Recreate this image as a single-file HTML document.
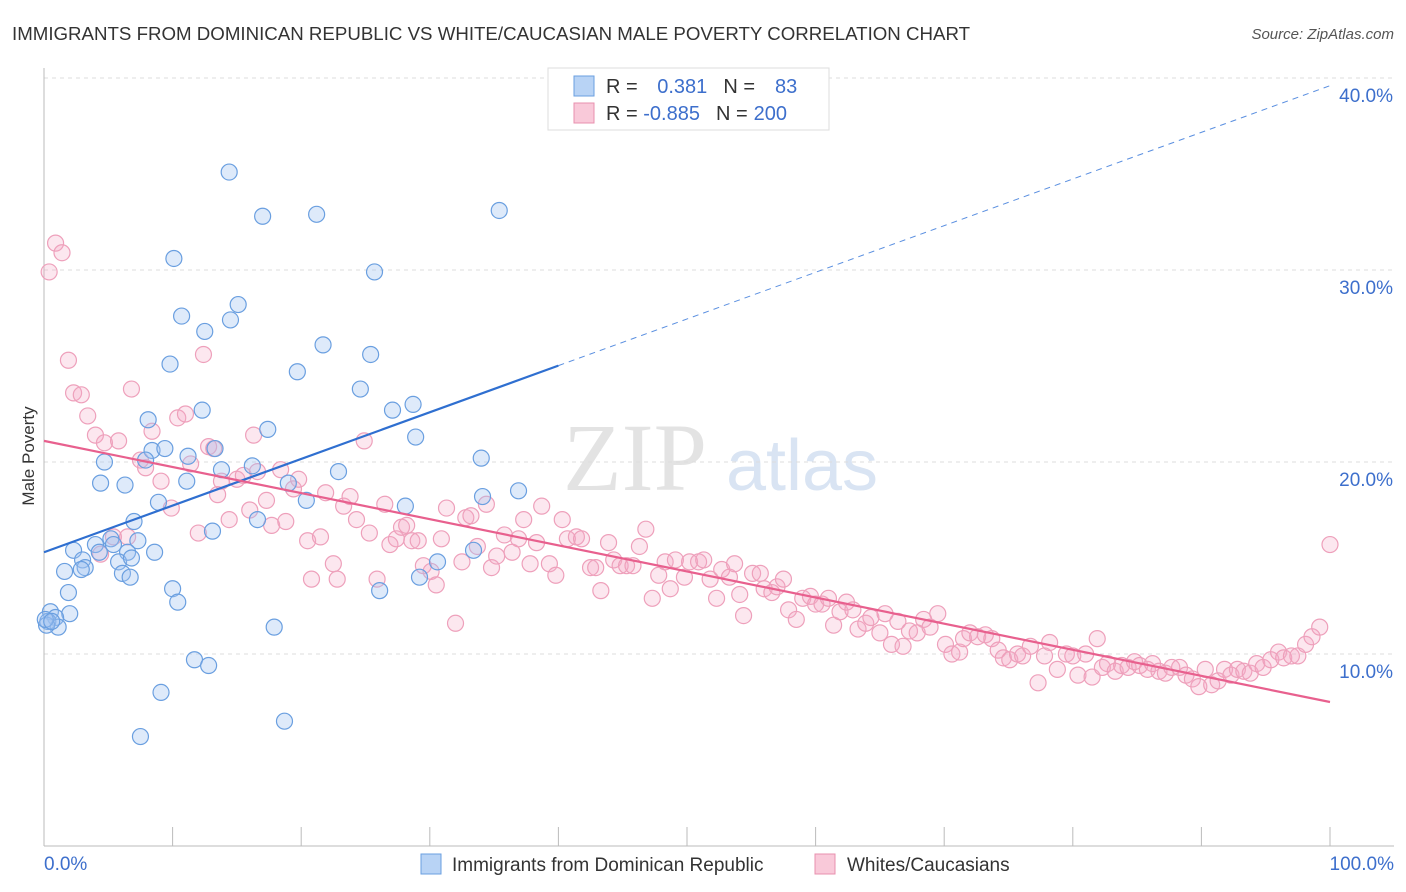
<!DOCTYPE html>
<html><head><meta charset="utf-8"><style>
body{margin:0;background:#fff;font-family:"Liberation Sans",sans-serif;}
#wrap{position:relative;width:1406px;height:892px;overflow:hidden;}
</style></head><body>
<div id="wrap">
<svg id="svg" width="1406" height="892" xmlns="http://www.w3.org/2000/svg">
<text x="12" y="40" font-size="18.7" fill="#333">IMMIGRANTS FROM DOMINICAN REPUBLIC VS WHITE/CAUCASIAN MALE POVERTY CORRELATION CHART</text>
<text x="1394" y="39" font-size="15" fill="#555" font-style="italic" text-anchor="end">Source: ZipAtlas.com</text>
<text x="0" y="0" transform="translate(34,456) rotate(-90)" font-size="17" fill="#333" text-anchor="middle">Male Poverty</text>
<g><text x="635" y="490" font-size="96" fill="#d8d8d8" font-family="Liberation Serif,serif" text-anchor="middle" opacity="0.7">ZIP</text><text x="802" y="490" font-size="72" fill="#c9d9ee" text-anchor="middle" opacity="0.7">atlas</text></g>
<g id="grid"></g><g id="axes"></g><g id="marks"></g><g id="lines"></g>
<g>
<rect x="548" y="68" width="281" height="62" fill="#fff" stroke="#ddd"/>
<rect x="574" y="76" width="20" height="20" fill="#b8d3f5" stroke="#6a9fe0"/>
<text x="606" y="93" font-size="20" fill="#333">R = <tspan fill="#3d6fcc" dx="14">0.381</tspan><tspan dx="16" fill="#333">N =</tspan><tspan dx="20" fill="#3d6fcc">83</tspan></text>
<rect x="574" y="103" width="20" height="20" fill="#f9c9d9" stroke="#e890ae"/>
<text x="606" y="120" font-size="20" fill="#333">R = <tspan fill="#3d6fcc">-0.885</tspan><tspan dx="16" fill="#333">N =</tspan><tspan dx="6" fill="#3d6fcc">200</tspan></text>
</g>
<g>
<rect x="421" y="854" width="20" height="20" fill="#b8d3f5" stroke="#6a9fe0"/>
<text x="452" y="871" font-size="19" fill="#333">Immigrants from Dominican Republic</text>
<rect x="815" y="854" width="20" height="20" fill="#f9c9d9" stroke="#e890ae"/>
<text x="847" y="871" font-size="19" fill="#333">Whites/Caucasians</text>
</g>
</svg>
</div>
<script>
const yTicks=[10,20,30,40];
const yTickLabels=["10.0%","20.0%","30.0%","40.0%"];
const xTicks=[10,20,30,40,50,60,70,80,90,100];
const blueX=[14.4,17.0,21.2,35.4,10.1,25.7,15.1,10.7,14.5,12.5,21.7,25.4,9.8,19.7,24.6,12.3,27.1,28.7,8.1,17.4,28.9,8.4,9.4,13.3,7.9,4.7,11.2,16.2,13.8,22.9,34.0,4.4,6.3,11.1,19.0,20.4,36.9,34.1,8.9,28.1,16.6,7.0,13.1,5.2,7.3,4.0,5.4,2.3,4.3,6.5,8.6,33.4,3.0,5.8,6.8,3.2,1.6,2.9,6.1,6.7,30.6,29.2,10.0,26.1,1.9,10.4,2.0,0.5,0.9,0.3,1.1,0.2,17.9,11.7,12.8,9.1,18.7,7.5,0.1,0.6];
const blueY=[35.1,32.8,32.9,33.1,30.6,29.9,28.2,27.6,27.4,26.8,26.1,25.6,25.1,24.7,23.8,22.7,22.7,23.0,22.2,21.7,21.3,20.6,20.7,20.7,20.1,20.0,20.3,19.8,19.6,19.5,20.2,18.9,18.8,19.0,18.9,18.0,18.5,18.2,17.9,17.7,17.0,16.9,16.4,16.0,15.9,15.7,15.7,15.4,15.3,15.3,15.3,15.4,14.9,14.8,15.0,14.5,14.3,14.4,14.2,14.0,14.8,14.0,13.4,13.3,13.2,12.7,12.1,12.2,11.9,11.7,11.4,11.5,11.4,9.7,9.4,8.0,6.5,5.7,11.8,11.7];
const pinkX=[0.4,0.9,1.4,1.9,2.3,2.9,3.4,4.0,4.7,5.8,6.8,4.4,5.4,6.5,7.5,7.9,8.4,9.1,9.9,10.4,11.0,11.4,12.0,12.4,12.8,13.2,13.5,13.8,14.4,15.0,15.5,16.3,16.0,16.6,17.3,17.7,18.4,18.8,19.4,19.8,20.5,20.8,21.5,21.9,22.5,22.8,23.3,23.8,24.3,24.9,25.3,25.9,26.5,26.9,27.4,27.8,28.2,28.6,29.1,29.5,30.1,30.5,30.9,31.3,32.0,32.5,32.8,33.2,33.7,34.4,34.8,35.2,35.8,36.4,36.9,37.3,37.8,38.3,38.7,39.3,39.8,40.3,40.7,41.4,41.8,42.5,42.9,43.3,43.9,44.3,44.8,45.3,45.8,46.3,46.8,47.3,47.8,48.3,48.7,49.1,49.8,50.2,50.9,51.3,51.8,52.3,52.7,53.3,53.7,54.1,54.4,55.1,55.7,56.0,56.6,57.0,57.5,57.9,58.5,59.0,59.6,60.0,60.5,61.0,61.4,61.9,62.4,62.9,63.3,63.9,64.3,65.0,65.4,65.9,66.4,66.8,67.3,67.9,68.4,68.9,69.5,70.1,70.6,71.2,71.5,72.0,72.6,73.2,73.7,74.2,74.6,75.1,75.7,76.1,76.7,77.3,77.8,78.2,78.8,79.5,80.0,80.4,81.0,81.5,81.9,82.3,82.7,83.3,83.8,84.3,84.8,85.2,85.8,86.2,86.7,87.2,87.7,88.3,88.8,89.3,89.8,90.3,90.8,91.3,91.8,92.3,92.8,93.3,93.8,94.3,94.8,95.4,96.0,96.4,97.0,97.5,98.1,98.6,99.2,100.0];
const pinkY=[29.9,31.4,30.9,25.3,23.6,23.5,22.4,21.4,21.0,21.1,23.8,15.2,16.1,16.1,20.1,19.7,21.6,19.0,17.6,22.3,22.5,19.9,16.3,25.6,20.8,20.7,18.3,19.0,17.0,19.1,19.3,21.4,17.5,19.5,18.0,16.7,19.6,16.9,18.6,19.1,15.9,13.9,16.1,18.4,14.7,13.9,17.7,18.2,17.0,21.1,16.3,13.9,17.8,15.7,16.0,16.6,16.7,15.9,15.9,14.6,14.3,13.6,16.0,17.6,11.6,14.8,17.1,17.2,15.6,17.8,14.5,15.1,16.2,15.3,16.0,17.0,14.7,15.8,17.7,14.7,14.1,17.0,16.0,16.1,16.0,14.5,14.5,13.3,15.8,14.9,14.6,14.6,14.6,15.6,16.5,12.9,14.1,14.8,13.4,14.9,14.0,14.8,14.8,14.9,13.9,12.9,14.4,14.0,14.7,13.1,12.0,14.2,14.2,13.4,13.2,13.5,13.9,12.3,11.8,12.9,13.0,12.6,12.6,12.9,11.5,12.2,12.7,12.3,11.3,11.6,11.9,11.1,12.1,10.5,11.7,10.4,11.2,11.1,11.8,11.4,12.1,10.5,10.0,10.1,10.8,11.1,10.9,11.0,10.8,10.2,9.8,9.7,10.0,9.9,10.4,8.5,9.9,10.6,9.2,10.0,9.9,8.9,10.0,8.8,10.8,9.3,9.5,9.1,9.4,9.3,9.6,9.4,9.2,9.5,9.1,9.0,9.3,9.3,8.9,8.7,8.3,9.2,8.4,8.6,9.2,8.9,9.2,9.1,9.0,9.5,9.3,9.7,10.1,9.8,9.9,9.9,10.5,10.9,11.4,15.7];
const blueTrend=[15.3,0.243];   // intercept, slope
const blueSolidEnd=40;
const pinkTrend=[21.1,-0.136];

const NS="http://www.w3.org/2000/svg";
const X0=44,X1=1330,Y0=846,PX=19.2;
function sx(v){return X0+(X1-X0)*v/100;}
function sy(v){return Y0-v*PX;}
function mk(tag,attrs,parent){const e=document.createElementNS(NS,tag);for(const k in attrs)e.setAttribute(k,attrs[k]);document.getElementById(parent).appendChild(e);return e;}

yTicks.forEach((t,i)=>{
  const g=mk('line',{x1:X0,x2:1394,y1:sy(t),y2:sy(t),stroke:'#ddd','stroke-dasharray':'4,4'},'grid');
  
  
  const l=mk('text',{x:1393,y:sy(t)+24,'font-size':19,fill:'#3d6fcc','text-anchor':'end'},'grid');
  l.textContent=yTickLabels[i];
  
  
});
const ax=mk('line',{x1:X0,x2:1394,y1:Y0,y2:Y0,stroke:'#bbb'},'axes');


const ay=mk('line',{x1:X0,x2:X0,y1:68,y2:Y0,stroke:'#bbb'},'axes');


xTicks.forEach(t=>{
  const k=mk('line',{x1:sx(t),x2:sx(t),y1:Y0,y2:Y0-19,stroke:'#bbb'},'axes');
  
  
});
const xl0=mk('text',{x:44,y:870,'font-size':19,fill:'#3d6fcc'},'axes');xl0.textContent='0.0%';


const xl1=mk('text',{x:1394,y:870,'font-size':19,fill:'#3d6fcc','text-anchor':'end'},'axes');xl1.textContent='100.0%';



pinkX.forEach((x,i)=>{
  const c=mk('circle',{cx:sx(x),cy:sy(pinkY[i]),r:8,fill:'rgba(245,170,196,0.28)',stroke:'#eea0bb','stroke-width':1.2},'marks');
  
  
});
blueX.forEach((x,i)=>{
  const c=mk('circle',{cx:sx(x),cy:sy(blueY[i]),r:8,fill:'rgba(160,195,240,0.35)',stroke:'#6a9fe0','stroke-width':1.2},'marks');
  
  
});
function tv(tr,x){return tr[0]+tr[1]*x;}
const b1=mk('line',{x1:sx(0),y1:sy(tv(blueTrend,0)),x2:sx(blueSolidEnd),y2:sy(tv(blueTrend,blueSolidEnd)),stroke:'#2f6fd0','stroke-width':2.2},'lines');


const b2=mk('line',{x1:sx(blueSolidEnd),y1:sy(tv(blueTrend,blueSolidEnd)),x2:sx(100),y2:sy(tv(blueTrend,100)),stroke:'#5a8fe0','stroke-width':1,'stroke-dasharray':'6,5'},'lines');


const p1=mk('line',{x1:sx(0),y1:sy(tv(pinkTrend,0)),x2:sx(100),y2:sy(tv(pinkTrend,100)),stroke:'#e8608e','stroke-width':2.2},'lines');


</script>
</body></html>
